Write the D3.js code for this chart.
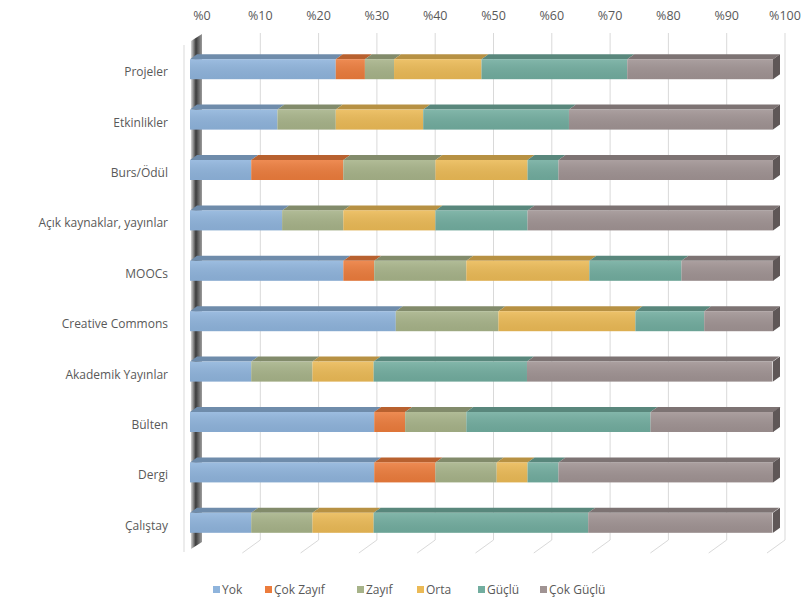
<!DOCTYPE html>
<html>
<head>
<meta charset="utf-8">
<script src="https://cdn.jsdelivr.net/npm/d3@7"></script>
<style>
  body { margin: 0; background: #fff; }
  text { font-family: "Open Sans", sans-serif; fill: #595959; }
</style>
</head>
<body>
<div id="chart"></div>
<script>
const categories = ["Projeler", "Etkinlikler", "Burs/Ödül", "Açık kaynaklar, yayınlar", "MOOCs",
  "Creative Commons", "Akademik Yayınlar", "Bülten", "Dergi", "Çalıştay"];

const seriesNames = ["Yok", "Çok Zayıf", "Zayıf", "Orta", "Güçlü", "Çok Güçlü"];

// percentage per category, same order as categories
const yok      = [25, 15, 10.5, 15.8, 26.3, 35.3, 10.5, 31.6, 31.6, 10.5];
const cokZayif = [5, 0, 15.8, 0, 5.3, 0, 0, 5.3, 10.5, 0];
const zayif    = [5, 10, 15.8, 10.5, 15.8, 17.6, 10.5, 10.5, 10.5, 10.5];
const orta     = [15, 15, 15.8, 15.8, 21.1, 23.5, 10.5, 0, 5.3, 10.5];
const guclu    = [25, 25, 5.3, 15.8, 15.8, 11.8, 26.3, 31.6, 5.3, 36.8];
const cokGuclu = [25, 35, 36.8, 42.1, 15.8, 11.8, 42.1, 21.1, 36.8, 31.6];

const ticks = [0, 10, 20, 30, 40, 50, 60, 70, 80, 90, 100];

const colors = ["#8fb4dc", "#ec7c3c", "#a7b389", "#ebba56", "#72ad9f", "#a09393"];

const width = 806, height = 603;
const depthX = 12, depthY = 0;   // back wall offset for grid
const topDx = 7, topDy = -5;     // bar top face offset
const barH = 20;

const svg = d3.select("#chart").append("svg")
  .attr("width", width)
  .attr("height", height);

const x = d3.scaleLinear().domain([0, 100]).range([190, 773]);
const y = d3.scalePoint().domain(categories).range([44, 548]).padding(0.5);

const rows = categories.map((c, i) => {
  const vals = [yok[i], cokZayif[i], zayif[i], orta[i], guclu[i], cokGuclu[i]];
  let acc = 0;
  return vals.map((v, k) => {
    const seg = {cat: c, k: k, x0: acc, x1: acc + v};
    acc += v;
    return seg;
  });
});

// gridlines on back wall + floor slant
const gridTop = 33, gridBottom = 540;
const grid = svg.append("g");
ticks.filter(t => t > 0).forEach(t => {
  const xb = x(t) + depthX;
  grid.append("path")
    .attr("d", `M${xb},${gridTop}L${xb},${gridBottom}L${xb - 18},${gridBottom + 13}`)
    .attr("fill", "none")
    .attr("stroke", "#d9d9d9")
    .attr("stroke-width", 1);
});

// left wall front edge
svg.append("path")
  .attr("d", `M184,45L184,552`)
  .attr("stroke", "#d9d9d9")
  .attr("fill", "none");

// left wall strip
const defs = svg.append("defs");
const wg = defs.append("linearGradient").attr("id", "wall")
  .attr("x1", "0").attr("y1", "0").attr("x2", "1").attr("y2", "0.02");
wg.append("stop").attr("offset", "0%").attr("stop-color", "#d8d8d8");
wg.append("stop").attr("offset", "45%").attr("stop-color", "#3c3c3c");
wg.append("stop").attr("offset", "100%").attr("stop-color", "#9a9a9a");

svg.append("path")
  .attr("d", "M191,41L202,34L202,542L191,549Z")
  .attr("fill", "url(#wall)");

// top tick labels
svg.append("g").selectAll("text")
  .data(ticks).enter().append("text")
  .attr("x", d => x(d) + depthX)
  .attr("y", 20)
  .attr("text-anchor", "middle")
  .style("font-size", "12.5px")
  .text(d => `%${d}`);

// bars
const fg = defs.append("linearGradient").attr("id", "shine")
  .attr("x1", "0").attr("y1", "0").attr("x2", "0").attr("y2", "1");
fg.append("stop").attr("offset", "0%").attr("stop-color", "#fff").attr("stop-opacity", 0.12);
fg.append("stop").attr("offset", "100%").attr("stop-color", "#000").attr("stop-opacity", 0.06);

const bars = svg.append("g").selectAll("g")
  .data(rows).enter().append("g");

bars.each(function (segs) {
  const g = d3.select(this);
  const yc = y(segs[0].cat);
  const y0 = yc - barH / 2;
  const live = segs.filter(s => s.x1 > s.x0);

  // top faces
  g.selectAll(".top").data(live).enter().append("path")
    .attr("d", s => `M${x(s.x0)},${y0}L${x(s.x0) + topDx},${y0 + topDy}L${x(s.x1) + topDx},${y0 + topDy}L${x(s.x1)},${y0}Z`)
    .attr("fill", s => d3.color(colors[s.k]).darker(0.7));

  // front faces
  g.selectAll(".front").data(live).enter().append("rect")
    .attr("x", s => x(s.x0))
    .attr("y", y0)
    .attr("width", s => x(s.x1) - x(s.x0))
    .attr("height", barH)
    .attr("fill", s => colors[s.k]);

  g.append("rect")
    .attr("x", x(0)).attr("y", y0)
    .attr("width", x(100) - x(0)).attr("height", barH)
    .attr("fill", "url(#shine)");

  // right side face
  g.append("path")
    .attr("d", `M${x(100)},${y0}L${x(100) + topDx},${y0 + topDy}L${x(100) + topDx},${y0 + topDy + barH}L${x(100)},${y0 + barH}Z`)
    .attr("fill", "#5f5757");
});

// category labels
svg.append("g").selectAll("text")
  .data(categories).enter().append("text")
  .attr("x", 168)
  .attr("y", d => y(d) + 7)
  .attr("text-anchor", "end")
  .style("font-size", "12px")
  .text(d => d);

// legend
const legendX = [213, 265, 357, 417, 478, 540];
const legend = svg.append("g").selectAll("g")
  .data(seriesNames).enter().append("g")
  .attr("transform", (d, i) => `translate(${legendX[i]},590)`);

legend.append("rect")
  .attr("x", 0).attr("y", -4)
  .attr("width", 7).attr("height", 7)
  .attr("fill", (d, i) => colors[i]);

legend.append("text")
  .attr("x", 9)
  .attr("y", 4)
  .style("font-size", "12px")
  .text(d => d);
</script>
</body>
</html>
